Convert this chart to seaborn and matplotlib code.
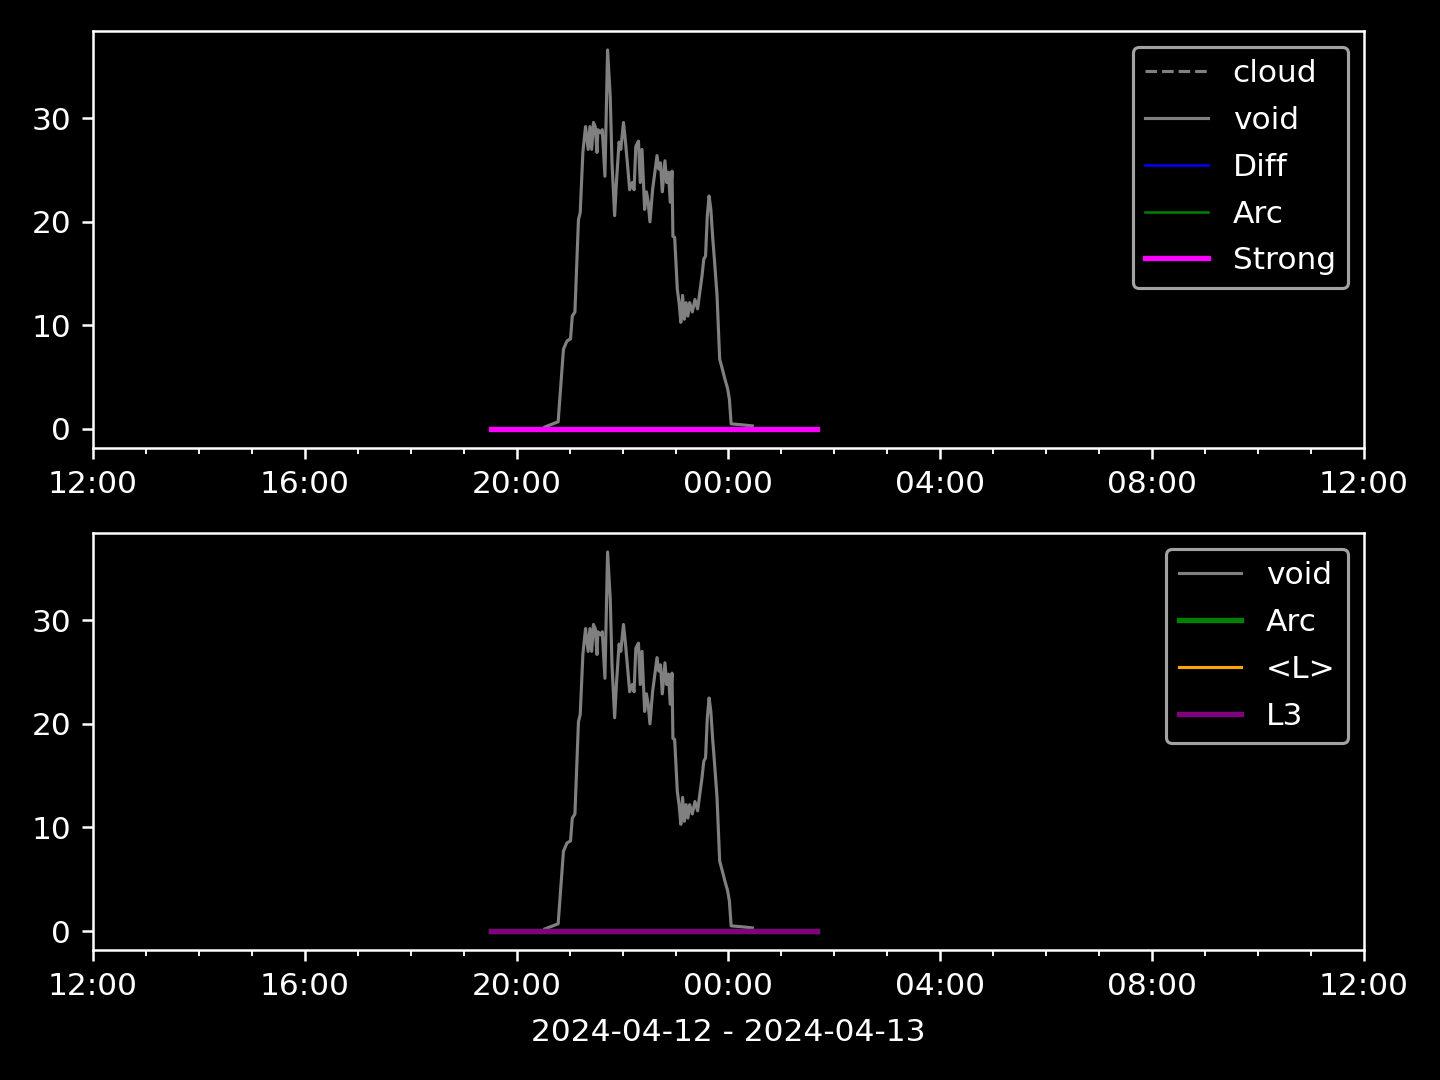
import numpy as np
import pandas as pd
import matplotlib
matplotlib.use("Agg")
import matplotlib.pyplot as plt
import matplotlib.dates as mdates
import seaborn as sns

# ---------------- data ----------------
void_times = ["20:32", "20:47", "20:53", "20:57", "21:01", "21:03", "21:06", "21:10",
              "21:12", "21:15", "21:18", "21:21", "21:23", "21:25", "21:27", "21:29",
              "21:31", "21:32", "21:35", "21:37", "21:40", "21:43", "21:46", "21:48",
              "21:51", "21:53", "21:56", "21:58", "22:01", "22:03", "22:06", "22:08",
              "22:11", "22:13", "22:15", "22:18", "22:20", "22:22", "22:25", "22:27",
              "22:29", "22:31", "22:34", "22:39", "22:41", "22:43", "22:45", "22:48",
              "22:50", "22:52", "22:54", "22:56", "22:57", "22:59", "23:02", "23:04",
              "23:06", "23:08", "23:10", "23:12", "23:14", "23:16", "23:19", "23:22",
              "23:25", "23:27", "23:30", "23:32", "23:34", "23:36", "23:38", "23:40",
              "23:42", "23:44", "23:47", "23:50", "23:53", "23:56", "23:59", "00:01",
              "00:03", "00:16", "00:27"]
void_values = [0.2, 0.7, 7.7, 8.5, 8.7, 10.9, 11.3, 20.2,
               20.9, 26.7, 29.2, 27.0, 29.2, 27.0, 29.6, 29.2,
               26.7, 28.9, 28.6, 28.9, 24.4, 36.6, 32.1, 25.7,
               20.6, 23.8, 27.7, 27.0, 29.6, 28.0, 25.1, 23.1,
               23.8, 23.1, 27.3, 27.8, 23.8, 27.0, 21.2, 22.9,
               21.9, 20.0, 23.1, 26.4, 25.1, 25.7, 22.9, 25.9,
               23.8, 24.8, 21.9, 24.9, 18.6, 18.5, 13.5, 12.2,
               10.3, 12.9, 10.6, 12.2, 10.9, 12.2, 11.3, 12.5,
               11.6, 12.9, 14.8, 16.4, 16.7, 20.6, 22.5, 21.2,
               18.6, 16.4, 12.9, 6.75, 5.8, 4.8, 3.9, 2.9,
               0.5, 0.4, 0.3]

flat_times = ["19:31", "01:40"]
cloud_values = [0.0, 0.0]
diff_values = [0.0, 0.0]
arc_values = [0.0, 0.0]
strong_values = [0.0, 0.0]
meanL_values = [0.0, 0.0]
l3_values = [0.0, 0.0]

day0 = pd.Timestamp("2024-04-12")


def to_dt(times):
    out = []
    for t in times:
        h, m = map(int, t.split(":"))
        d = day0 if h >= 12 else day0 + pd.Timedelta(days=1)
        out.append(d + pd.Timedelta(hours=h, minutes=m))
    return pd.to_datetime(out)


void_dt = to_dt(void_times)
flat_dt = to_dt(flat_times)

# ---------------- style ----------------
plt.style.use("dark_background")
plt.rcParams["font.family"] = ["DejaVu Sans"]

fig, axes = plt.subplots(2, 1, figsize=(6.4, 4.8), dpi=225)
ax1, ax2 = axes

# top panel
sns.lineplot(x=flat_dt, y=cloud_values, ax=ax1, color="gray", linestyle="--", linewidth=1, label="cloud")
sns.lineplot(x=void_dt, y=void_values, ax=ax1, color="gray", linewidth=1, label="void")
sns.lineplot(x=flat_dt, y=diff_values, ax=ax1, color="blue", linewidth=0.8, label="Diff")
sns.lineplot(x=flat_dt, y=arc_values, ax=ax1, color="green", linewidth=0.8, label="Arc")
sns.lineplot(x=flat_dt, y=strong_values, ax=ax1, color="magenta", linewidth=1.7, label="Strong")

# bottom panel
sns.lineplot(x=void_dt, y=void_values, ax=ax2, color="gray", linewidth=1, label="void")
sns.lineplot(x=flat_dt, y=arc_values, ax=ax2, color="green", linewidth=1.7, label="Arc")
sns.lineplot(x=flat_dt, y=meanL_values, ax=ax2, color="orange", linewidth=1, label="<L>")
sns.lineplot(x=flat_dt, y=l3_values, ax=ax2, color="purple", linewidth=1.7, label="L3")

xmin = pd.Timestamp("2024-04-12 12:00")
xmax = pd.Timestamp("2024-04-13 12:00")
for ax in axes:
    ax.set_xlim(xmin, xmax)
    ax.xaxis.set_major_locator(mdates.HourLocator(byhour=range(0, 24, 4)))
    ax.xaxis.set_minor_locator(mdates.HourLocator())
    ax.xaxis.set_major_formatter(mdates.DateFormatter("%H:%M"))
    ax.set_ylabel("")
    ax.set_xlabel("")
    ax.legend(loc="upper right", labelspacing=0.57)

ax2.set_xlabel("2024-04-12 - 2024-04-13", labelpad=5.5)

fig.subplots_adjust(left=0.0646, right=0.9472, top=0.9713, bottom=0.1204, hspace=0.204)
fig.savefig("out.png", dpi=225)
